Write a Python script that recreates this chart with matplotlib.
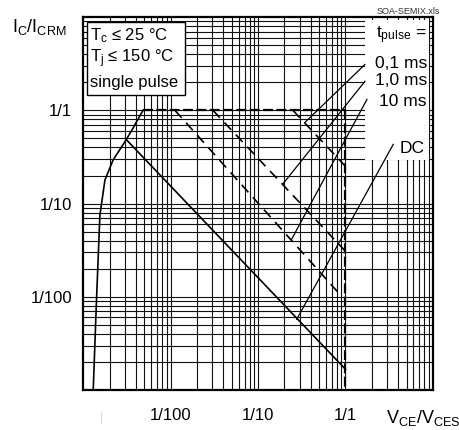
import matplotlib
matplotlib.use('Agg')
import matplotlib.pyplot as plt
from matplotlib.patches import Rectangle
from matplotlib.ticker import LogLocator, NullFormatter
import numpy as np

plt.rcParams['font.family'] = ['Liberation Sans', 'DejaVu Sans']
plt.rcParams['mathtext.fontset'] = 'custom'
plt.rcParams['mathtext.rm'] = 'Liberation Sans'
plt.rcParams['mathtext.it'] = 'Liberation Sans:italic'
plt.rcParams['mathtext.bf'] = 'Liberation Sans:bold'

# ---- data ----
# left (solid) limit curve
curve_x = [1.30e-3, 1.42e-3, 1.55e-3, 1.77e-3, 2.19e-3, 3.08e-3, 3.71e-3, 4.82e-3]
curve_y = [1e-3, 0.0097, 0.075, 0.179, 0.293, 0.48, 0.646, 1.0]
# outer dashed boundary: top (I = 1/1) and right (V = 1/1)
top_x = [4.82e-3, 1.0]
top_y = [1.0, 1.0]
right_x = [1.0, 1.0]
right_y = [1.0, 1e-3]
# pulse limit lines (dashed)
p01_x = [0.251, 1.0];   p01_y = [1.0, 0.251]
p1_x = [0.0305, 1.0];   p1_y = [1.0, 0.0308]
p10_x = [0.0112, 0.865]; p10_y = [1.0, 0.0106]
# DC line (solid)
dc_x = [0.00308, 1.0];  dc_y = [0.49, 0.00167]
# leader lines from labels to curves
lead01_x = [1.67, 0.344];  lead01_y = [3.11, 0.743]
lead1_x = [1.67, 0.194];   lead1_y = [2.05, 0.164]
lead10_x = [1.76, 0.242];  lead10_y = [1.31, 0.0414]
leaddc_x = [3.52, 0.277];  leaddc_y = [0.432, 0.00574]

tick_vals = [0.01, 0.1, 1]
tick_labels = ['1/100', '1/10', '1/1']
pulse_labels = ['0,1 ms', '1,0 ms', '10 ms']

# ---- figure ----
fig = plt.figure(figsize=(4.6, 4.3), dpi=100)
ax = fig.add_axes([0.181, 0.093, 0.760, 0.867])
ax.set_xscale('log')
ax.set_yscale('log')
ax.set_xlim(1e-3, 10)
ax.set_ylim(1e-3, 10)

for axis in (ax.xaxis, ax.yaxis):
    axis.set_minor_locator(LogLocator(base=10, subs=np.arange(2, 10), numticks=30))
    axis.set_minor_formatter(NullFormatter())
ax.set_xticks(tick_vals, labels=tick_labels)
ax.set_yticks(tick_vals, labels=tick_labels)
ax.tick_params(which='both', length=0)
ax.tick_params(axis='x', pad=13, labelsize=12)
ax.tick_params(axis='y', pad=8, labelsize=12)
ax.set_axisbelow(True)
ax.grid(True, which='both', color='#111111', lw=0.8)
for s in ax.spines.values():
    s.set_linewidth(1.6)
    s.set_zorder(6)

# white legend area on the right
ax.add_patch(Rectangle((0.806, 0.617), 0.183, 0.375, transform=ax.transAxes,
                       facecolor='white', edgecolor='none', zorder=2))

# curves
ax.plot(curve_x, curve_y, color='black', lw=1.2, zorder=3)
ax.plot(dc_x, dc_y, color='black', lw=1.2, zorder=3)
for xs, ys in ((top_x, top_y), (right_x, right_y)):
    ax.plot(xs, ys, color='black', lw=1.6, dashes=(4.5, 1.5), zorder=3)
for xs, ys in ((p01_x, p01_y), (p1_x, p1_y), (p10_x, p10_y)):
    ax.plot(xs, ys, color='black', lw=1.2, dashes=(6, 4), zorder=3)
for xs, ys in ((lead01_x, lead01_y), (lead1_x, lead1_y), (lead10_x, lead10_y), (leaddc_x, leaddc_y)):
    ax.plot(xs, ys, color='black', lw=0.9, zorder=4, clip_on=False)

# legend texts
ax.text(0.983, 0.952, 't$_\\mathrm{pulse}$ =', transform=ax.transAxes, ha='right', va='center', fontsize=12.5, zorder=7)
for lbl, yy in zip(pulse_labels, [0.877, 0.829, 0.773]):
    ax.text(0.983, yy, lbl, transform=ax.transAxes, ha='right', va='center', fontsize=12.5, zorder=7)
ax.text(0.977, 0.649, 'DC', transform=ax.transAxes, ha='right', va='center', fontsize=12.5, zorder=7)

# conditions box
ax.add_patch(Rectangle((0.011, 0.791), 0.28, 0.196, transform=ax.transAxes,
                       facecolor='white', edgecolor='black', lw=1.0, zorder=5))
cond = ['T$_\\mathrm{c}$ ≤ 25 °C', 'T$_\\mathrm{j}$ ≤ 150 °C', 'single pulse']
for lbl, yy in zip(cond, [0.950, 0.888, 0.826]):
    ax.text(0.019, yy, lbl, transform=ax.transAxes, ha='left', va='center', fontsize=12, zorder=7)

# axis titles and file note
fig.text(12 / 460, 1 - 27 / 430, 'I$_\\mathrm{C}$/I$_\\mathrm{CRM}$', ha='left', va='center', fontsize=13)
fig.text(386 / 460, 1 - 418 / 430, 'V$_\\mathrm{CE}$/V$_\\mathrm{CES}$', ha='left', va='center', fontsize=13)
fig.text(408 / 460, 1 - 11 / 430, 'SOA-SEMIX.xls', ha='center', va='center', fontsize=6.5, color='#333333')
fig.text(102 / 460, 1 - 418 / 430, '|', ha='center', va='center', fontsize=9, color='#d8d8d8')

fig.savefig('out.png', dpi=100)
